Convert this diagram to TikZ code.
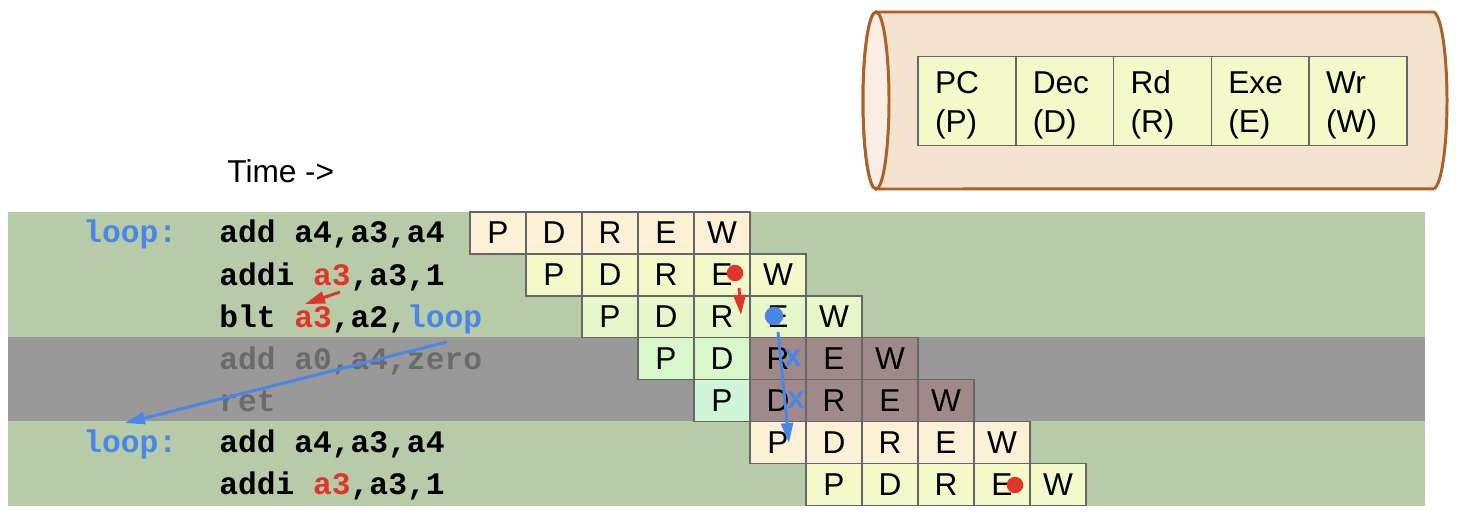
\documentclass[tikz,border=0pt]{standalone}
\usepackage{fontspec}
\usepackage{xcolor}
\usepackage{tikz}
\usetikzlibrary{positioning,arrows.meta}
\setmainfont{Liberation Sans}
\newfontfamily\codefont{Liberation Mono}

\definecolor{bandgreen}{HTML}{B7CBA9}
\definecolor{bandgrey}{HTML}{999999}
\definecolor{cellgrey}{HTML}{666666}
\definecolor{creamcell}{HTML}{FCF1D6}
\definecolor{yellowcell}{HTML}{F4F9C9}
\definecolor{lgreencell}{HTML}{E6F8CA}
\definecolor{pgreencell}{HTML}{D8F7CB}
\definecolor{mintcell}{HTML}{D0F5D7}
\definecolor{stallcell}{HTML}{9F8A89}
\definecolor{tubebody}{HTML}{F4E3CE}
\definecolor{tubeface}{HTML}{FAEDE3}
\definecolor{tubeedge}{HTML}{A8622A}
\definecolor{loopblue}{HTML}{4A86E8}
\definecolor{regred}{HTML}{E0352B}
\definecolor{dimtext}{HTML}{6B6B6B}

\begin{document}
\begin{tikzpicture}[x=0.02cm, y=0.02cm,
        stagebox/.style={draw=cellgrey, line width=0.8pt, minimum width=1.12cm, minimum height=0.838cm,
            inner sep=0pt, outer sep=0pt, font=\fontsize{18}{21}\selectfont},
        unitbox/.style={draw=cellgrey, line width=0.8pt, fill=yellowcell, minimum height=1.76cm,
            inner xsep=0.34cm, text width=1.276cm, align=left, outer sep=0pt,
            font=\fontsize{18}{22.5}\selectfont, execute at begin node={\rule{0pt}{0.62cm}}},
        asm/.style={anchor=base west, inner sep=0pt, font=\codefont\bfseries\fontsize{17.8}{20}\selectfont},
        dot/.style={circle, inner sep=0pt, minimum size=0.33cm},
        killmark/.style={inner sep=0pt, text=loopblue, font=\bfseries\fontsize{18}{20}\selectfont},
        hazard/.style={line width=1.7pt, -{Triangle[length=0.4cm, width=0.24cm]}}
    ]
        \useasboundingbox (0,0) rectangle (1457,-513);

        % pipeline drawn as a tube
        \draw[tubeedge, line width=1.7pt, fill=tubebody]
            (876,-12) -- (1433,-12) arc[start angle=90, end angle=-90, x radius=0.28cm, y radius=1.77cm]
            -- (876,-189) arc[start angle=270, end angle=90, x radius=0.26cm, y radius=1.77cm] -- cycle;
        \draw[tubeedge, line width=1.7pt, fill=tubeface] (876,-100.5) ellipse[x radius=0.26cm, y radius=1.77cm];

        \node[unitbox] (pc) at (966.9,-101) {PC\\(P)};
        \node[unitbox, right=0pt of pc] (dec) {Dec\\(D)};
        \node[unitbox, right=0pt of dec] (rd) {Rd\\(R)};
        \node[unitbox, right=0pt of rd] (exe) {Exe\\(E)};
        \node[unitbox, right=0pt of exe] (wr) {Wr\\(W)};

        \node[anchor=base west, inner sep=0pt, font=\fontsize{18}{21}\selectfont] (time) at (227,-183) {Time ->};

        % background bands
        \fill[bandgreen] (8,-212) rectangle (1425,-506);
        \fill[bandgrey] (8,-337) rectangle (1425,-421);

        % instructions
        \node[asm, text=loopblue] (lbl1) at (83,-243) {loop:};
        \node[asm] (ins1) at (219,-243) {add a4,a3,a4};
        \node[asm] (ins2) at (219,-285) {addi \textcolor{regred}{a3},a3,1};
        \node[asm] (ins3) at (219,-327) {blt \textcolor{regred}{a3},a2,\textcolor{loopblue}{loop}};
        \node[asm, text=dimtext] (ins4) at (219,-369) {add a0,a4,zero};
        \node[asm, text=dimtext] (ins5) at (219,-411) {ret};
        \node[asm, text=loopblue] (lbl6) at (83,-452.5) {loop:};
        \node[asm] (ins6) at (219,-452.5) {add a4,a3,a4};
        \node[asm] (ins7) at (219,-494.4) {addi \textcolor{regred}{a3},a3,1};

        % stages, one row per instruction
        \foreach \r/\fa/\fb/\fc/\fd/\fe in {
            1/creamcell/creamcell/creamcell/creamcell/creamcell,
            2/yellowcell/yellowcell/yellowcell/yellowcell/yellowcell,
            3/lgreencell/lgreencell/lgreencell/lgreencell/lgreencell,
            4/pgreencell/pgreencell/stallcell/stallcell/stallcell,
            5/mintcell/stallcell/stallcell/stallcell/stallcell,
            6/creamcell/creamcell/creamcell/creamcell/creamcell,
            7/yellowcell/yellowcell/yellowcell/yellowcell/yellowcell} {
            \foreach \j/\s/\f in {0/P/\fa, 1/D/\fb, 2/R/\fc, 3/E/\fd, 4/W/\fe}
                \node[stagebox, fill=\f] (s\r-\s) at ({498+56*(\r-1)+56*\j}, {-233-41.9*(\r-1)}) {\s};
        }

        % data hazard on a3
        \node[dot, fill=regred] (resA) at (735,-273) {};
        \coordinate (fwdA) at (739,-288);
        \coordinate (useA) at (741,-315);
        \draw[hazard, regred] (fwdA) -- (useA);
        \coordinate (codeA) at (340,-292);
        \coordinate (codeB) at (305,-304);
        \draw[hazard, regred] (codeA) -- (codeB);
        \node[dot, fill=regred] (resB) at (1015,-485) {};

        % branch taken, two squashed
        \node[dot, fill=loopblue, minimum height=0.37cm] (brA) at (774,-316) {};
        \coordinate (brFrom) at (778,-332);
        \coordinate (brTo) at (789,-443);
        \draw[hazard, loopblue] (brFrom) -- (brTo);
        \node[killmark] (killA) at (793,-358) {x};
        \node[killmark] (killB) at (796,-400) {x};
        \coordinate (jumpFrom) at (447,-342);
        \coordinate (jumpTo) at (125,-423);
        \draw[hazard, loopblue] (jumpFrom) -- (jumpTo);
\end{tikzpicture}
\end{document}
